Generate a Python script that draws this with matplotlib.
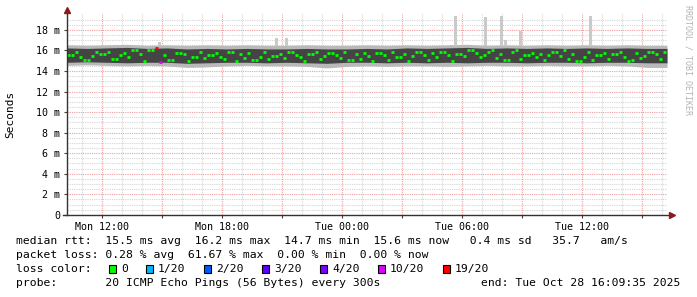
import numpy as np
import matplotlib
matplotlib.use('Agg')
import matplotlib.pyplot as plt
from matplotlib.patches import Rectangle

# time axis: hours since Mon 00:00, graph covers 30 hours
t_start = 10.235
t_span = 30.0

xtick_hours = [12, 18, 24, 30, 36]
xtick_labels = ['Mon 12:00', 'Mon 18:00', 'Tue 00:00', 'Tue 06:00', 'Tue 12:00']
ytick_vals = [0, 2, 4, 6, 8, 10, 12, 14, 16, 18]
ytick_labels = ['0', '2 m', '4 m', '6 m', '8 m', '10 m', '12 m', '14 m', '16 m', '18 m']

# median rtt (ms), one value per 12 minutes
median_ms = [
    15.6, 15.6, 15.9, 15.4, 15.1, 15.1, 15.5, 15.9, 15.7, 15.7, 15.9, 15.2, 15.2, 15.6, 15.8,
    15.4, 16.0, 16.0, 15.7, 15.0, 16.0, 16.0, 16.2, 14.9, 15.6, 15.1, 15.1, 15.8, 15.8, 15.7,
    15.0, 15.4, 15.4, 15.9, 15.3, 15.6, 15.6, 15.8, 15.4, 15.2, 15.9, 15.9, 15.0, 15.7, 15.3,
    15.8, 15.1, 15.1, 15.4, 15.9, 15.2, 15.5, 15.5, 15.7, 15.3, 15.9, 15.9, 15.6, 15.4, 15.0,
    15.7, 15.7, 15.9, 15.2, 15.5, 15.8, 15.8, 15.6, 15.3, 15.9, 15.1, 15.1, 15.7, 15.2, 15.8,
    15.5, 15.0, 15.8, 15.8, 15.6, 15.1, 15.9, 15.4, 15.4, 15.7, 15.0, 15.5, 15.9, 15.9, 15.6,
    15.1, 15.8, 15.4, 15.9, 15.9, 15.6, 15.0, 15.7, 15.7, 15.5, 16.0, 16.0, 15.8, 15.4, 15.6,
    15.9, 16.0, 15.3, 15.7, 15.1, 15.1, 15.9, 16.0, 15.2, 15.6, 15.6, 15.8, 15.4, 15.7, 15.1,
    15.6, 15.9, 15.9, 15.5, 16.0, 15.2, 15.7, 15.0, 15.0, 15.4, 15.9, 15.1, 15.6, 15.6, 15.8,
    15.2, 15.7, 15.7, 15.9, 15.4, 15.0, 15.1, 15.8, 15.3, 15.5, 15.9, 15.9, 15.7, 15.2, 15.9,
]
loss_idx = [22, 23]
loss_lvl = ['19/20', '10/20']

# smoke envelope (ms), hourly
hi_outer = [16.55, 16.5, 16.55, 16.6, 16.5, 16.55, 16.5, 16.55, 16.5, 16.55, 16.5, 16.5, 16.55, 16.5, 16.5, 16.55,
            16.5, 16.55, 16.5, 16.55, 16.6, 16.5, 16.55, 16.5, 16.55, 16.5, 16.55, 16.5, 16.55, 16.5, 16.5]
hi_inner = [16.25, 16.2, 16.25, 16.3, 16.2, 16.25, 16.15, 16.2, 16.15, 16.2, 16.15, 16.15, 16.2, 16.15, 16.15, 16.2,
            16.15, 16.25, 16.2, 16.25, 16.3, 16.2, 16.25, 16.2, 16.25, 16.2, 16.25, 16.2, 16.25, 16.2, 16.2]
lo_inner = [14.85, 14.9, 14.85, 14.8, 14.85, 14.85, 14.75, 14.8, 14.85, 14.85, 14.8, 14.85, 14.8, 14.75, 14.85, 14.85,
            14.8, 14.85, 14.8, 14.85, 14.8, 14.85, 14.85, 14.8, 14.85, 14.85, 14.8, 14.85, 14.85, 14.8, 14.8]
lo_outer = [14.55, 14.6, 14.55, 14.5, 14.55, 14.5, 14.35, 14.4, 14.5, 14.55, 14.5, 14.5, 14.45, 14.3, 14.45, 14.5,
            14.45, 14.5, 14.5, 14.45, 14.5, 14.55, 14.5, 14.5, 14.55, 14.5, 14.5, 14.55, 14.5, 14.35, 14.35]

# single slow pings above the smoke
spike_hour = [14.87, 20.72, 21.22, 29.67, 31.17, 31.97, 32.17, 32.92, 36.42]
spike_top = [16.8, 17.2, 17.2, 19.4, 19.3, 19.4, 17.0, 17.9, 19.4]

loss_names = ['0', '1/20', '2/20', '3/20', '4/20', '10/20', '19/20']
loss_colors = ['#00ff00', '#00b8ff', '#0059ff', '#5e00ff', '#7e00ff', '#dd00ff', '#ff0000']

plt.rcParams['font.family'] = ['DejaVu Sans Mono']

fig = plt.figure(figsize=(6.97, 2.97), dpi=100)
W, H = 697.0, 297.0
ax = fig.add_axes([67 / W, 82.2 / H, 600 / W, 201.8 / H])
ax.set_xlim(t_start, t_start + t_span)
ax.set_ylim(0, 19.65)

# grid
ax.set_axisbelow(True)
ax.set_xticks(np.arange(12, 40, 3))
lab = dict(zip(xtick_hours, xtick_labels))
ax.set_xticklabels([lab.get(int(h), '') for h in np.arange(12, 40, 3)], fontsize=7.2)
ax.set_xticks(np.arange(11, 41, 1), minor=True)
ax.set_yticks(ytick_vals)
ax.set_yticklabels(ytick_labels, fontsize=7.2)
ax.set_yticks(np.arange(0.5, 19.1, 0.5), minor=True)
ax.grid(which='minor', color='#d6d6d6', ls=(0, (1, 1)), lw=0.8)
ax.grid(which='major', color='#f0a0a0', ls=(0, (1, 1)), lw=0.8)
ax.tick_params(which='both', length=2, color='#404040', pad=3)
ax.tick_params(which='minor', length=0)
for s in ax.spines.values():
    s.set_visible(False)

# smoke
env_t = t_start + np.arange(len(hi_outer))
ax.fill_between(env_t, lo_outer, hi_outer, color='#b9b9b9', lw=0)
ax.fill_between(env_t, lo_inner, hi_inner, color='#444444', lw=0)
ax.bar(spike_hour, np.array(spike_top) - 16.4, bottom=16.4, width=0.15, color='#cacaca', lw=0)

# median line coloured by loss
dt = t_span / len(median_ms)
med_t = t_start + dt * np.arange(len(median_ms))
cols = [loss_colors[0]] * len(median_ms)
for i, l in zip(loss_idx, loss_lvl):
    cols[i] = loss_colors[loss_names.index(l)]
ax.hlines(median_ms, med_t, med_t + 0.8 * dt, colors=cols, lw=2.0)

# axes with arrows
ax.plot([0, 0], [0, 1.012], transform=ax.transAxes, color='#333333', lw=1, clip_on=False)
ax.plot([-0.006, 1.008], [0, 0], transform=ax.transAxes, color='#333333', lw=1, clip_on=False)
ax.plot([0], [1.015], marker='^', ms=4.5, color='#8b1a1a', transform=ax.transAxes, clip_on=False)
ax.plot([1.009], [0], marker='>', ms=4.5, color='#8b1a1a', transform=ax.transAxes, clip_on=False)

fig.text(10 / W, 1 - 114 / H, 'Seconds', rotation=90, ha='center', va='center', fontsize=8)
fig.text(688 / W, 1 - 5 / H, 'RRDTOOL / TOBI OETIKER', rotation=270, ha='center', va='top',
         fontsize=6, color='#b4b4b4')

# legend block
fs = 8.2
fig.text(16 / W, 1 - 241 / H,
         'median rtt:  15.5 ms avg  16.2 ms max  14.7 ms min  15.6 ms now   0.4 ms sd   35.7   am/s',
         ha='left', va='center', fontsize=fs)
fig.text(16 / W, 1 - 255.5 / H,
         'packet loss: 0.28 % avg  61.67 % max  0.00 % min  0.00 % now',
         ha='left', va='center', fontsize=fs)
fig.text(16 / W, 1 - 269 / H, 'loss color:', ha='left', va='center', fontsize=fs)
x = 109
for name, c in zip(loss_names, loss_colors):
    fig.patches.append(Rectangle((x / W, 1 - 273 / H), 7 / W, 8 / H, transform=fig.transFigure,
                                 facecolor=c, edgecolor='black', lw=0.8))
    fig.text((x + 12) / W, 1 - 269 / H, name, ha='left', va='center', fontsize=fs)
    x += 11 + 7 * len(name) + 19
fig.text(16 / W, 1 - 283 / H, 'probe:       20 ICMP Echo Pings (56 Bytes) every 300s',
         ha='left', va='center', fontsize=fs)
fig.text(680 / W, 1 - 283 / H, 'end: Tue Oct 28 16:09:35 2025', ha='right', va='center', fontsize=fs)

fig.savefig('out.png', dpi=100, facecolor='white')
